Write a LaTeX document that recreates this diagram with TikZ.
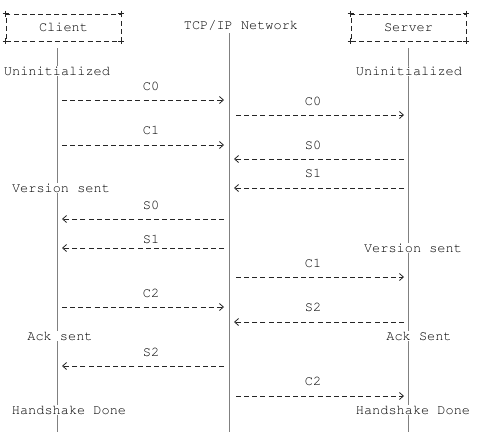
\documentclass[tikz,border=0pt]{standalone}
\usepackage[T1]{fontenc}
\usepackage{courier}
\usetikzlibrary{arrows.meta,calc}

\tikzset{
  every node/.style={font=\ttfamily\fontsize{13.6}{16}\selectfont, text=black, inner sep=1pt},
  actor/.style={draw=black!85, line width=0.7pt, dash pattern=on 5pt off 3.15pt,
    minimum width=115pt, minimum height=27pt, inner sep=0pt},
  life/.style={draw=black!50, line width=0.9pt},
  msg/.style={black!85, line width=0.8pt, dash pattern=on 5pt off 3.15pt,
    -{Straight Barb[length=4pt,width=7pt]}},
  state/.style={fill=white, inner sep=1pt},
}

\begin{document}
\begin{tikzpicture}[x=1pt,y=-1pt]
\useasboundingbox (0,0) rectangle (477,445);
% the two ends and the network
\node[actor] (client) at (63.5,27.5) {Client};
\node[actor] (server) at (408.5,27.5) {Server};
\node (net) at (241,26) {TCP/IP Network};
\foreach \b in {client,server}
  \foreach \a in {north west,north east,south west,south east}
    \draw[black!85, line width=0.7pt] (\b.\a) +(-3,0) -- +(3,0) +(0,-3) -- +(0,3);

% lifelines
\coordinate (cl) at (57,48);
\coordinate (nw) at (229,33);
\coordinate (sv) at (408,48);
\foreach \c in {cl,nw,sv}
  \draw[life] (\c) -- (\c |- 0,432);

% states, white behind so the lifeline breaks
\node[state] (cuninit) at (57,71) {Uninitialized};
\node[state] (suninit) at (409,71) {Uninitialized};
\node[state] (cvers) at (61,188) {Version sent};
\node[state] (svers) at (413,248) {Version sent};
\node[state] (cack) at (60,336) {Ack sent};
\node[state] (sack) at (419,336) {Ack Sent};
\node[state] (cdone) at (69,410) {Handshake Done};
\node[state] (sdone) at (413,410) {Handshake Done};

% client -> network
\foreach \lab/\y/\ly in {C0/100/86, C1/145/130, C2/307/293} {
  \draw[msg] ($(cl |- 0,\y)+(5,0)$) -- ($(nw |- 0,\y)+(-5,0)$);
  \node (cm\y) at (151,\ly) {\lab};
}
% network -> client
\foreach \lab/\y/\ly in {S0/219/205, S1/248/239, S2/366/352} {
  \draw[msg] ($(nw |- 0,\y)+(-5,0)$) -- ($(cl |- 0,\y)+(5,0)$);
  \node (sm\y) at (151,\ly) {\lab};
}
% network -> server
\foreach \lab/\y/\ly in {C0/115/101, C1/277/263, C2/396/381} {
  \draw[msg] ($(nw |- 0,\y)+(7,0)$) -- ($(sv |- 0,\y)+(-4,0)$);
  \node (cn\y) at (313,\ly) {\lab};
}
% server -> network
\foreach \lab/\y/\ly in {S0/159/145, S1/188/173, S2/322/307} {
  \draw[msg] ($(sv |- 0,\y)+(-4,0)$) -- ($(nw |- 0,\y)+(5,0)$);
  \node (sn\y) at (313,\ly) {\lab};
}
\end{tikzpicture}
\end{document}
